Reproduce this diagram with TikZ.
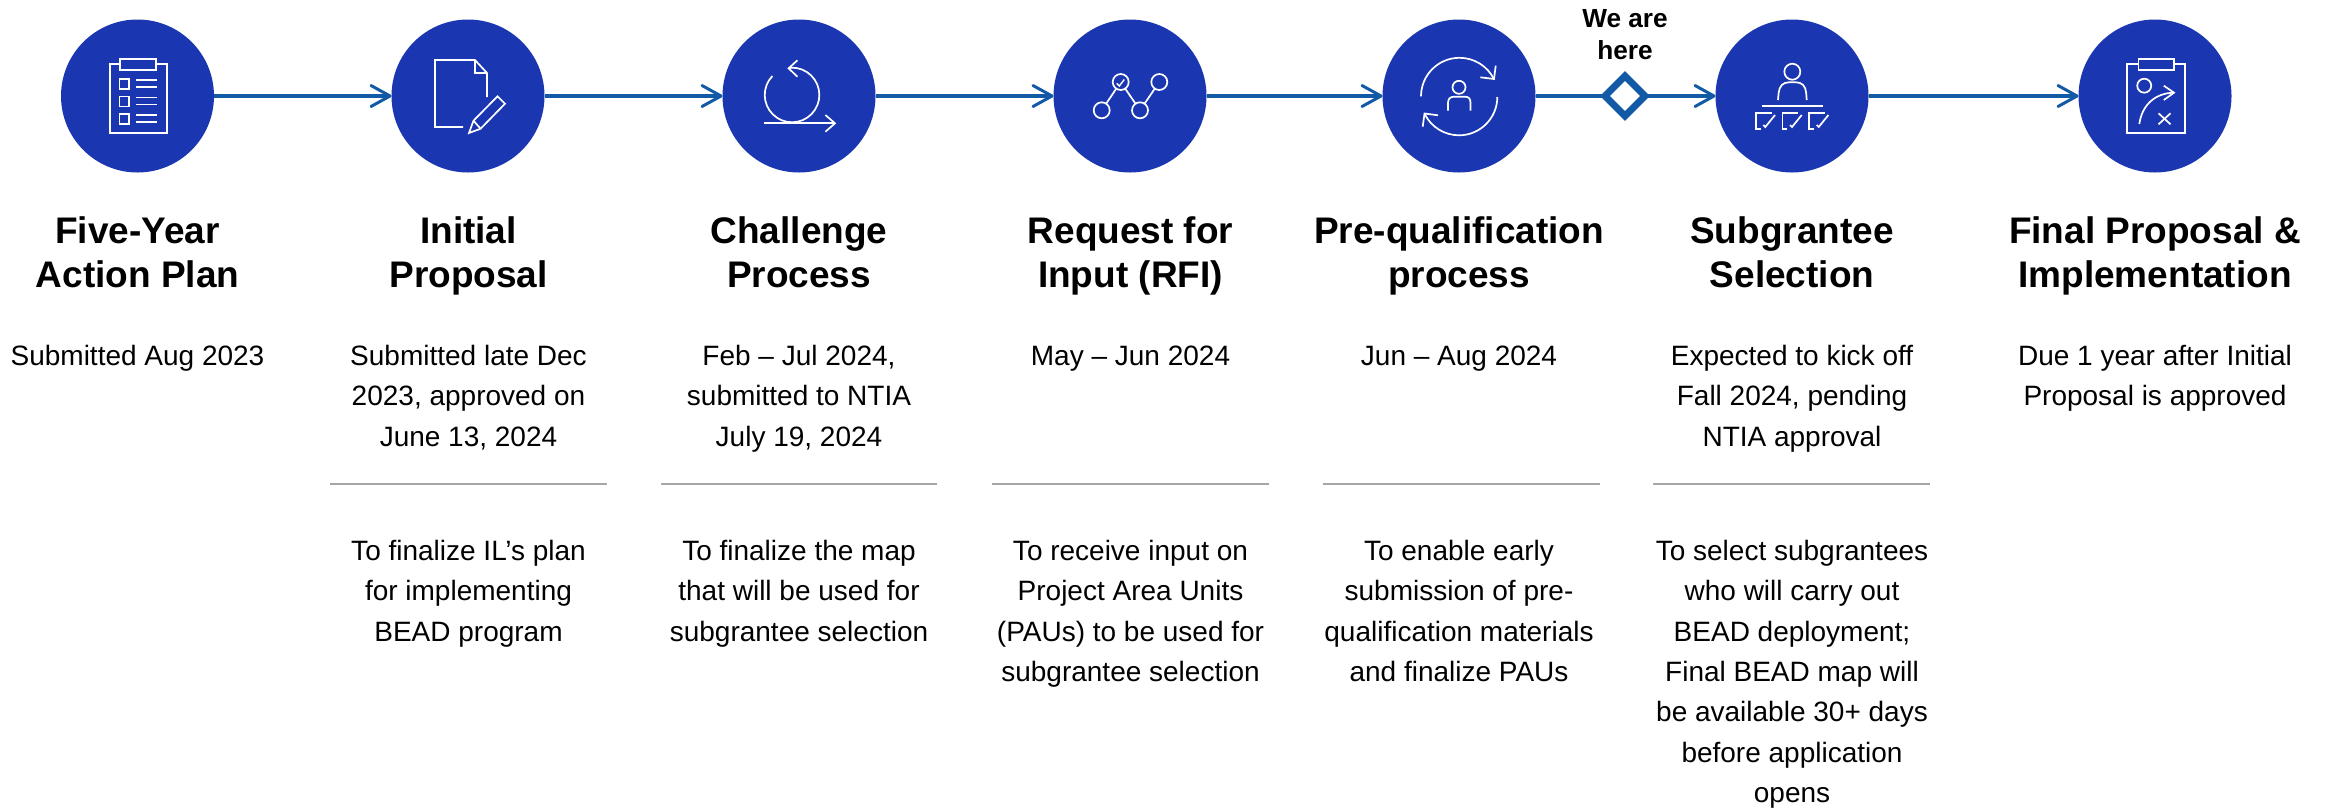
\documentclass[tikz,border=0pt]{standalone}
\usepackage{fontspec}
\setmainfont{Liberation Sans}
\usetikzlibrary{arrows.meta,shapes.geometric}
\definecolor{disc}{HTML}{1A37B1}
\definecolor{link}{HTML}{125AA5}
\definecolor{rulec}{HTML}{A6A6A6}
\tikzset{
  x=1pt,y=-1pt,
  disc/.style={circle,fill=disc,draw=none,minimum size=153pt,inner sep=0pt,outer sep=0pt},
  linkline/.style={draw=link,line width=3.2pt,-{Straight Barb[length=19pt,width=21pt,line width=3pt,round]}},
  plainlink/.style={draw=link,line width=3.2pt},
  marker/.style={diamond,aspect=1,draw=link,fill=white,line width=7pt,minimum width=40pt,minimum height=40pt,inner sep=0pt,outer sep=0pt},
  ico/.style={draw=white,line width=1.7pt,line join=miter},
  dot/.style={circle,draw=white,line width=1.7pt,minimum size=16pt,inner sep=0pt,outer sep=0pt},
  headtxt/.style={align=center,inner sep=0pt,anchor=north,font=\fontsize{37}{44.7}\selectfont\bfseries,execute at begin node={\rule{0pt}{36pt}}},
  bodytxt/.style={align=center,inner sep=0pt,anchor=north,font=\fontsize{28}{40.3}\selectfont,execute at begin node={\rule{0pt}{28pt}}},
  heretxt/.style={align=center,inner sep=0pt,anchor=north,font=\fontsize{26.2}{32}\selectfont\bfseries,execute at begin node={\rule{0pt}{24pt}}},
  sep/.style={draw=rulec,line width=1.2pt},
}
\begin{document}
\begin{tikzpicture}
\useasboundingbox (0,0) rectangle (2333,807);
% discs
\node[disc] (c1) at (137.5,96) {};
\node[disc] (c2) at (468,96) {};
\node[disc] (c3) at (799,96) {};
\node[disc] (c4) at (1130,96) {};
\node[disc] (c5) at (1459,96) {};
\node[disc] (c6) at (1792,96) {};
\node[disc] (c7) at (2155,96) {};
\node[marker] (here) at (1625,96) {};
% connectors
\draw[linkline] (c1) -- (c2);
\draw[linkline] (c2) -- (c3);
\draw[linkline] (c3) -- (c4);
\draw[linkline] (c4) -- (c5);
\draw[plainlink] (c5) -- (here);
\draw[linkline] (here) -- (c6);
\draw[linkline] (c6) -- (c7);
% icon 1: clipboard list
\draw[ico] (110,64) rectangle (167,133);
\draw[ico,fill=disc] (120,59) rectangle (156,70);
\foreach \yy in {79,96.5,114}{
  \draw[ico] (119.5,\yy) rectangle (129,\yy+10);
  \draw[ico] (136,\yy+1) -- (157,\yy+1);
  \draw[ico] (136,\yy+8) -- (157,\yy+8);
}
% icon 2: document and pencil
\draw[ico] (463,127) -- (435,127) -- (435,60) -- (475,60) -- (487,73) -- (487,97);
\draw[ico] (475,60) -- (475,73) -- (487,73);
\draw[ico] (469,133) -- (473.5,120.7) -- (497.5,96.3) -- (505,103.7) -- (480.6,128.7) -- cycle;
\draw[ico] (473.5,120.7) -- (480.6,128.7);
% icon 3: loop
\draw[ico] (764,123.3) -- (835,123.3);
\draw[ico] (825.4,115) -- (835,123.3) -- (825.4,131.7);
\draw[ico] (772.4,76) arc[start angle=224,end angle=-90,radius=27.3] -- (788.6,68.3);
\draw[ico] (797.4,60.3) -- (788.6,68.3) -- (797.4,76.7);
% icon 4: network
\node[dot] (n1) at (1120.7,82) {};
\node[dot] (n2) at (1159.3,82) {};
\node[dot] (n3) at (1101.7,110.3) {};
\node[dot] (n4) at (1140,110.3) {};
\draw[ico] (n3) -- (n1);
\draw[ico] (n1) -- (n4);
\draw[ico] (n4) -- (n2);
\draw[ico,line width=1.4pt] (1116.7,83.3) -- (1119.3,86) -- (1124.3,79.5);
% icon 5: person in cycle
\draw[ico] (1421,96.3) arc[start angle=180,end angle=333.4,radius=38.5];
\draw[ico] (1495.7,65.7) -- (1494,79) -- (1480.3,77.3);
\draw[ico] (1497.3,97) arc[start angle=0,end angle=153,radius=38.3];
\draw[ico] (1422.7,126.7) -- (1424.5,113.5) -- (1438,115.3);
\draw[ico] (1459,87.3) circle[radius=6.5];
\draw[ico] (1448,110.7) -- (1448,103) .. controls (1448,99) and (1450,96.7) .. (1454,96.7) -- (1465,96.7) .. controls (1469,96.7) and (1470.5,99) .. (1470.5,103) -- (1470.5,110.7);
% icon 6: person at table
\draw[ico] (1792.3,71.7) circle[radius=8];
\draw[ico] (1778,100) -- (1778.6,93) .. controls (1779.3,86) and (1783,82.3) .. (1789,82.3) -- (1796,82.3) .. controls (1802,82.3) and (1805.6,86) .. (1806.2,93) -- (1806.7,100);
\draw[ico,line width=2pt] (1762,106.3) -- (1822.7,106.3);
\foreach \dx in {0,26.7,53.4}{
  \draw[ico] (1760.7+\dx,129) -- (1755.7+\dx,129) -- (1755.7+\dx,112.7) -- (1771.7+\dx,112.7);
  \draw[ico] (1763.3+\dx,125) -- (1765.3+\dx,127) -- (1775+\dx,115);
}
% icon 7: playbook clipboard
\draw[ico] (2127.2,64) rectangle (2185.3,133);
\draw[ico,fill=disc] (2138.4,59) rectangle (2174,70);
\draw[ico] (2144.2,85.7) circle[radius=7];
\draw[ico] (2139.3,124) .. controls (2142,105) and (2155,93) .. (2174,92.7);
\draw[ico] (2163.8,85.7) -- (2174,92.7) -- (2163.8,100);
\draw[ico] (2158.5,113.3) -- (2170.5,124.3);
\draw[ico] (2170.5,113.3) -- (2158.5,124.3);
% marker label
\node[heretxt] (heretext) at (1625,9) {We are\\here};
% headings
\node[headtxt] (h1) at (137.5,216) {Five-Year\\Action Plan};
\node[headtxt] (h2) at (468.5,216) {Initial\\Proposal};
\node[headtxt] (h3) at (799,216) {Challenge\\Process};
\node[headtxt] (h4) at (1130.5,216) {Request for\\Input (RFI)};
\node[headtxt] (h5) at (1459,216) {Pre-qualification\\process};
\node[headtxt] (h6) at (1792,216) {Subgrantee\\Selection};
\node[headtxt] (h7) at (2155,216) {Final Proposal \&\\Implementation};
% dates
\node[bodytxt] (d1) at (137.5,337.5) {Submitted Aug 2023};
\node[bodytxt] (d2) at (468.5,345) {Submitted late Dec\\2023, approved on\\June 13, 2024};
\node[bodytxt] (d3) at (799,345) {Feb – Jul 2024,\\submitted to NTIA\\July 19, 2024};
\node[bodytxt] (d4) at (1130.5,337.5) {May – Jun 2024};
\node[bodytxt] (d5) at (1459,337.5) {Jun – Aug 2024};
\node[bodytxt] (d6) at (1792,345) {Expected to kick off\\Fall 2024, pending\\NTIA approval};
\node[bodytxt] (d7) at (2155,345) {Due 1 year after Initial\\Proposal is approved};
% rules
\draw[sep] (330,484) -- (607,484);
\draw[sep] (661,484) -- (937,484);
\draw[sep] (992,484) -- (1269,484);
\draw[sep] (1323,484) -- (1600,484);
\draw[sep] (1653,484) -- (1930,484);
% purposes
\node[bodytxt] (p2) at (468.5,540) {To finalize IL’s plan\\for implementing\\BEAD program};
\node[bodytxt] (p3) at (799,540) {To finalize the map\\that will be used for\\subgrantee selection};
\node[bodytxt] (p4) at (1130.5,540) {To receive input on\\Project Area Units\\(PAUs) to be used for\\subgrantee selection};
\node[bodytxt] (p5) at (1459,540) {To enable early\\submission of pre-\\qualification materials\\and finalize PAUs};
\node[bodytxt] (p6) at (1792,540) {To select subgrantees\\who will carry out\\BEAD deployment;\\Final BEAD map will\\be available 30+ days\\before application\\opens};
\end{tikzpicture}
\end{document}
